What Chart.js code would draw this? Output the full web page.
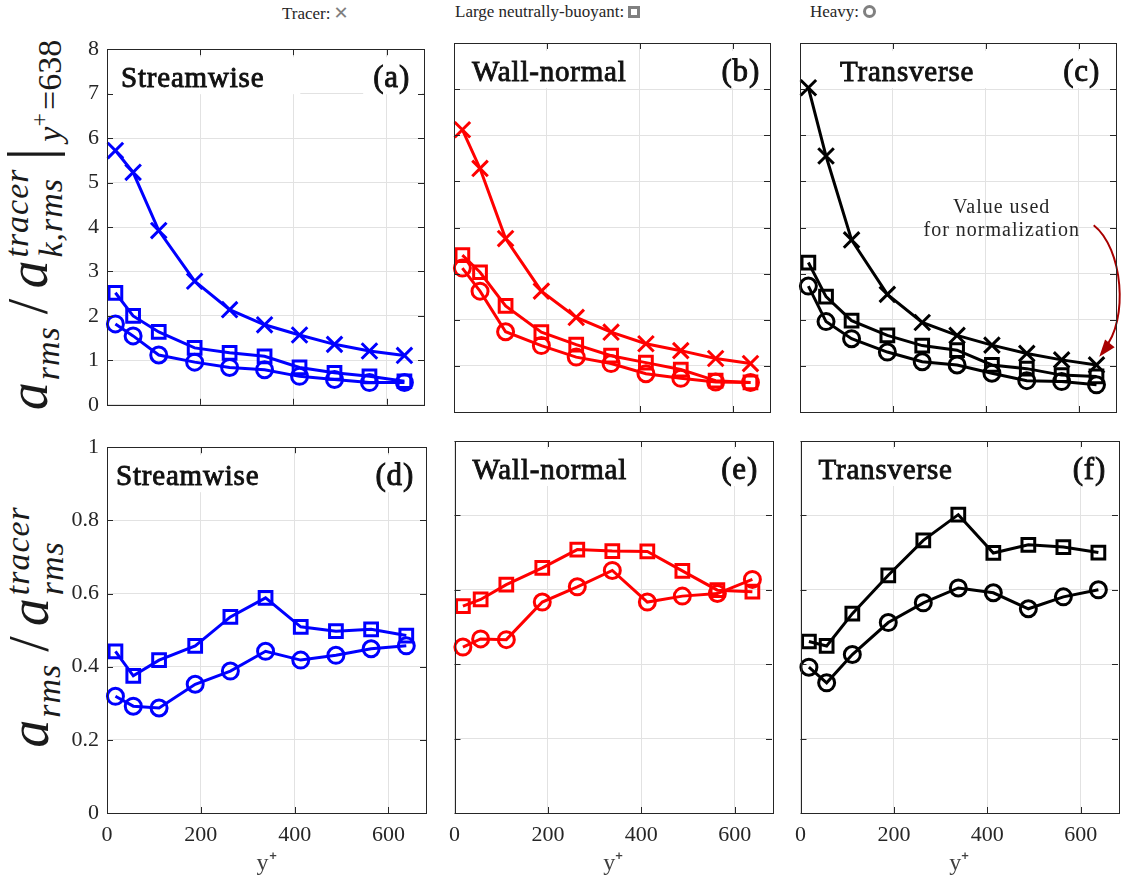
<!DOCTYPE html>
<html>
<head>
<meta charset="utf-8">
<script src="https://cdn.jsdelivr.net/npm/chart.js@4.4.1/dist/chart.umd.min.js"></script>
<style>
  body { margin: 0; background: #fff; }
  #fig { position: relative; width: 1130px; height: 883px; overflow: hidden; font-family: "Liberation Serif", serif; color: #262626; }
  canvas { position: absolute; }
  .ylab { position: absolute; transform: translate(-50%, -50%) rotate(-90deg); white-space: nowrap; font-size: 56px; line-height: 1; color: #1a1a1a; }
  .ylab i { font-style: italic; }
  .sub { font-style: italic; font-size: 34px; vertical-align: -12px; margin: 0 8px 0 2px; letter-spacing: 1px; }
  .sl { margin: 0 10px 0 4px; }
  .stack { display: inline-flex; flex-direction: column; font-style: italic; font-size: 34px; line-height: 1; vertical-align: 19px; margin-left: 3px; letter-spacing: 1px; }
  .bar { font-size: 64px; vertical-align: -4px; margin: 0 6px 0 8px; }
  .sub2 { font-size: 34px; vertical-align: -14px; }
  .sub2 sup { font-size: 24px; vertical-align: 14px; margin-right: 3px; }
  .legend { position: absolute; top: 2px; font-size: 17px; white-space: nowrap; }
  .mk { display: inline-block; vertical-align: -1px; margin-left: 4px; box-sizing: border-box; }
  .mk.sq { width: 12px; height: 12px; border: 3px solid #808080; }
  .mk.ci { width: 13px; height: 13px; border: 3px solid #808080; border-radius: 50%; }
  .mk.x { font-family: "DejaVu Sans", sans-serif; font-weight: bold; color: #808080; font-size: 18px; vertical-align: 0; margin-left: 3px; }
</style>
</head>
<body>
<div id="fig">
  <div class="legend" style="left:282px">Tracer:<span class="mk x">✕</span></div>
  <div class="legend" style="left:455px">Large neutrally-buoyant:<span class="mk sq"></span></div>
  <div class="legend" style="left:810px">Heavy:<span class="mk ci"></span></div>

  <div class="ylab" style="left:33px; top:225px">
    <i>a</i><span class="sub">rms</span><span class="sl">/</span><i>a</i><span class="stack"><span>tracer</span><span>k,rms</span></span><span class="bar">|</span><span class="sub2"><i>y</i><sup>+</sup>=638</span>
  </div>
  <div class="ylab" style="left:35px; top:627px">
    <i>a</i><span class="sub">rms</span><span class="sl">/</span><i>a</i><span class="stack"><span>tracer</span><span>rms</span></span>
  </div>

  <canvas id="pa"></canvas>
  <canvas id="pb"></canvas>
  <canvas id="pc"></canvas>
  <canvas id="pd"></canvas>
  <canvas id="pe"></canvas>
  <canvas id="pf"></canvas>
</div>

<script>
// data
const yPlus = [18, 56, 111, 188, 263, 338, 413, 488, 563, 638];
const xTickValues = [0, 200, 400, 600];
const topYTickValues = [0, 1, 2, 3, 4, 5, 6, 7, 8];
const botYTickValues = [0, 0.2, 0.4, 0.6, 0.8, 1];
const botYTickLabels = ["0", "0.2", "0.4", "0.6", "0.8", "1"];

// (a) streamwise, normalized by tracer at y+=638
const tracerStream = [5.72, 5.23, 3.92, 2.78, 2.14, 1.80, 1.57, 1.36, 1.21, 1.11];
const largeStream  = [2.52, 2.00, 1.64, 1.28, 1.17, 1.09, 0.84, 0.72, 0.64, 0.53];
const heavyStream  = [1.82, 1.55, 1.12, 0.96, 0.84, 0.79, 0.64, 0.57, 0.50, 0.50];
// (b) wall-normal
const tracerWall = [6.12, 5.28, 3.76, 2.62, 2.05, 1.73, 1.48, 1.33, 1.16, 1.05];
const largeWall  = [3.40, 3.03, 2.30, 1.73, 1.46, 1.22, 1.07, 0.92, 0.68, 0.64];
const heavyWall  = [3.12, 2.62, 1.74, 1.44, 1.19, 1.05, 0.83, 0.73, 0.65, 0.64];
// (c) transverse
const tracerTrans = [7.03, 5.55, 3.73, 2.55, 1.94, 1.66, 1.45, 1.27, 1.13, 1.02];
const largeTrans  = [3.24, 2.50, 1.98, 1.66, 1.44, 1.34, 1.02, 0.94, 0.80, 0.77];
const heavyTrans  = [2.73, 1.96, 1.59, 1.30, 1.09, 1.02, 0.84, 0.68, 0.66, 0.59];

// (d)-(f) ratio to tracer
const ratioLargeStream = [0.442, 0.375, 0.418, 0.457, 0.536, 0.588, 0.509, 0.497, 0.502, 0.485];
const ratioHeavyStream = [0.319, 0.292, 0.287, 0.352, 0.388, 0.442, 0.418, 0.431, 0.449, 0.457];
const ratioLargeWall   = [0.556, 0.574, 0.614, 0.659, 0.708, 0.704, 0.703, 0.651, 0.599, 0.595];
const ratioHeavyWall   = [0.446, 0.468, 0.466, 0.567, 0.608, 0.652, 0.567, 0.583, 0.590, 0.628];
const ratioLargeTrans  = [0.461, 0.449, 0.536, 0.639, 0.733, 0.802, 0.699, 0.721, 0.715, 0.700];
const ratioHeavyTrans  = [0.392, 0.350, 0.426, 0.512, 0.565, 0.605, 0.592, 0.549, 0.581, 0.600];

const noteLines = ["Value used", "for normalization"];

// layout of the plot boxes (page pixels)
const cols = [{ l: 107, r: 432 }, { l: 454, r: 778 }, { l: 800, r: 1125 }];
const rows = [{ t: 43, b: 416 }, { t: 441, b: 813 }];
const FRAME = "#262626";
const GRID = "#e2e2e2";
const FONT = '"Liberation Serif", serif';

function series(values, color, kind) {
    const style = { tracer: ["crossRot", 11], large: ["rect", 9], heavy: ["circle", 8] }[kind];
    return {
        data: values.map((v, i) => ({ x: yPlus[i], y: v })),
        borderColor: color,
        borderWidth: 3,
        pointStyle: style[0],
        pointRadius: style[1],
        pointBorderWidth: 3,
        pointBorderColor: color,
        pointBackgroundColor: "rgba(0,0,0,0)",
        tension: 0,
        clip: false
    };
}

// semi-bold serif text: fill plus a thin stroke
function heavyText(ctx, txt, x, y) {
    ctx.fillText(txt, x, y);
    ctx.strokeText(txt, x, y);
}

// white title boxes, frame and inward ticks
const framePlugin = {
    id: "frame",
    beforeDatasetsDraw(chart, args, opts) {
        const { ctx, chartArea: a } = chart;
        ctx.save();
        ctx.textBaseline = "middle";
        if ("letterSpacing" in ctx) ctx.letterSpacing = "0.8px";
        const cy = a.top + 30;
        ctx.font = '29px ' + FONT;
        const w1 = ctx.measureText(opts.title).width;
        ctx.font = '31px ' + FONT;
        const w2 = ctx.measureText(opts.tag).width;
        ctx.fillStyle = "#fff";
        ctx.fillRect(a.left + opts.tx - 12, a.top + 8, w1 + 12 + opts.pad, 37);
        ctx.fillRect(a.right - opts.rx - w2 - 10, a.top + 8, w2 + 10 + opts.rx - 2, 37);
        ctx.fillStyle = "#111";
        ctx.strokeStyle = "#111";
        ctx.lineWidth = 0.9;
        ctx.textAlign = "left";
        ctx.font = '29px ' + FONT;
        heavyText(ctx, opts.title, a.left + opts.tx, cy);
        ctx.textAlign = "right";
        ctx.font = '31px ' + FONT;
        heavyText(ctx, opts.tag, a.right - opts.rx, cy);
        ctx.restore();
    },
    afterDraw(chart) {
        const { ctx, chartArea: a, scales: { x, y } } = chart;
        ctx.save();
        ctx.strokeStyle = FRAME;
        ctx.lineWidth = 1;
        ctx.beginPath();
        x.ticks.forEach(t => {
            const px = Math.round(x.getPixelForValue(t.value)) + 0.5;
            ctx.moveTo(px, a.bottom); ctx.lineTo(px, a.bottom - 6);
            ctx.moveTo(px, a.top); ctx.lineTo(px, a.top + 6);
        });
        y.ticks.forEach(t => {
            const py = Math.round(y.getPixelForValue(t.value)) + 0.5;
            ctx.moveTo(a.left, py); ctx.lineTo(a.left + 6, py);
            ctx.moveTo(a.right, py); ctx.lineTo(a.right - 6, py);
        });
        ctx.stroke();
        ctx.strokeRect(Math.round(a.left) + 0.5, Math.round(a.top) + 0.5, Math.round(a.right - a.left), Math.round(a.bottom - a.top));
        ctx.restore();
    }
};

// "Value used for normalization" note with curved arrow, panel (c)
const notePlugin = {
    id: "note",
    afterDatasetsDraw(chart, args, opts) {
        if (!opts.show) return;
        const { ctx, scales: { x, y } } = chart;
        const P = (dx, dy) => [x.getPixelForValue(dx), y.getPixelForValue(dy)];
        ctx.save();
        ctx.font = '20px ' + FONT;
        ctx.fillStyle = "#262626";
        ctx.textAlign = "center";
        ctx.textBaseline = "middle";
        if ("letterSpacing" in ctx) ctx.letterSpacing = "1px";
        let p = P(434, 4.43); ctx.fillText(noteLines[0], p[0], p[1]);
        p = P(434, 3.93); ctx.fillText(noteLines[1], p[0], p[1]);
        const s = P(632, 4.05), c1 = P(695, 3.55), c2 = P(708, 2.0), e = P(644, 1.2);
        ctx.strokeStyle = "#a80000";
        ctx.fillStyle = "#a80000";
        ctx.lineWidth = 2;
        ctx.beginPath();
        ctx.moveTo(s[0], s[1]);
        ctx.bezierCurveTo(c1[0], c1[1], c2[0], c2[1], e[0] + 5, e[1] - 8);
        ctx.stroke();
        const ang = Math.atan2(e[1] - c2[1], e[0] - c2[0]);
        ctx.beginPath();
        ctx.moveTo(e[0], e[1]);
        ctx.lineTo(e[0] - 18 * Math.cos(ang - 0.35), e[1] - 18 * Math.sin(ang - 0.35));
        ctx.lineTo(e[0] - 18 * Math.cos(ang + 0.35), e[1] - 18 * Math.sin(ang + 0.35));
        ctx.closePath();
        ctx.fill();
        ctx.restore();
    }
};

function makePanel(id, col, row, cfg) {
    const c = cols[col], r = rows[row];
    const L = col === 0 ? c.l : 14;
    const R = col === 2 ? 1130 - c.r : 6;
    const T = 15;
    const B = row === 0 ? 10 : 70;
    const canvas = document.getElementById(id);
    canvas.width = L + (c.r - c.l) + R;
    canvas.height = T + (r.b - r.t) + B;
    canvas.style.left = (c.l - L) + "px";
    canvas.style.top = (r.t - T) + "px";

    const yTicks = row === 0 ? topYTickValues : botYTickValues;

    return new Chart(canvas.getContext("2d"), {
        type: "line",
        data: { datasets: cfg.datasets },
        options: {
            responsive: false,
            animation: false,
            events: [],
            layout: { padding: { top: T, right: R, left: 0, bottom: 0 } },
            plugins: {
                legend: { display: false },
                tooltip: { enabled: false },
                frame: { title: cfg.title, tag: cfg.tag, tx: cfg.tx, rx: cfg.rx, pad: cfg.pad },
                note: { show: !!cfg.note }
            },
            scales: {
                x: {
                    type: "linear",
                    min: 0, max: 680,
                    afterBuildTicks: s => { s.ticks = xTickValues.map(v => ({ value: v })); },
                    afterFit: s => { s.height = B; },
                    grid: { color: GRID, lineWidth: 1, drawTicks: false },
                    border: { display: false },
                    ticks: {
                        display: row === 1,
                        padding: 9,
                        color: FRAME,
                        font: { family: FONT, size: 22 },
                        maxRotation: 0
                    },
                    title: {
                        display: row === 1,
                        text: "y⁺",
                        color: "#404040",
                        font: { family: FONT, size: 24 },
                        padding: { top: 0, bottom: 5 }
                    }
                },
                y: {
                    type: "linear",
                    min: 0, max: row === 0 ? 8 : 1,
                    afterBuildTicks: s => { s.ticks = yTicks.map(v => ({ value: v })); },
                    afterFit: s => { s.width = L; },
                    grid: { color: GRID, lineWidth: 1, drawTicks: false },
                    border: { display: false },
                    ticks: {
                        display: col === 0,
                        padding: 8,
                        color: FRAME,
                        font: { family: FONT, size: 22 },
                        callback: (v, i) => row === 0 ? String(v) : botYTickLabels[i]
                    }
                }
            }
        },
        plugins: [framePlugin, notePlugin]
    });
}

makePanel("pa", 0, 0, {
    title: "Streamwise", tag: "(a)", tx: 14, rx: 14, pad: 36,
    datasets: [series(tracerStream, "#0000ff", "tracer"), series(largeStream, "#0000ff", "large"), series(heavyStream, "#0000ff", "heavy")]
});
makePanel("pb", 1, 0, {
    title: "Wall-normal", tag: "(b)", tx: 18, rx: 10, pad: 12,
    datasets: [series(tracerWall, "#ff0000", "tracer"), series(largeWall, "#ff0000", "large"), series(heavyWall, "#ff0000", "heavy")]
});
makePanel("pc", 2, 0, {
    title: "Transverse", tag: "(c)", tx: 40, rx: 16, pad: 12, note: true,
    datasets: [series(tracerTrans, "#000000", "tracer"), series(largeTrans, "#000000", "large"), series(heavyTrans, "#000000", "heavy")]
});
makePanel("pd", 0, 1, {
    title: "Streamwise", tag: "(d)", tx: 9, rx: 12, pad: 12,
    datasets: [series(ratioLargeStream, "#0000ff", "large"), series(ratioHeavyStream, "#0000ff", "heavy")]
});
makePanel("pe", 1, 1, {
    title: "Wall-normal", tag: "(e)", tx: 18, rx: 14, pad: 12,
    datasets: [series(ratioLargeWall, "#ff0000", "large"), series(ratioHeavyWall, "#ff0000", "heavy")]
});
makePanel("pf", 2, 1, {
    title: "Transverse", tag: "(f)", tx: 18, rx: 12, pad: 12,
    datasets: [series(ratioLargeTrans, "#000000", "large"), series(ratioHeavyTrans, "#000000", "heavy")]
});
</script>
</body>
</html>
